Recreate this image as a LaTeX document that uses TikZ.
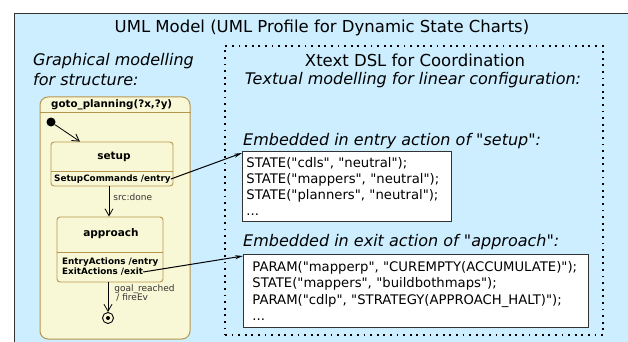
\documentclass[tikz,border=0pt]{standalone}
\usepackage{fontspec}
\setmainfont{DejaVu Sans}[Ligatures=TeXOff]
\usepackage{tikz}
\usetikzlibrary{arrows.meta,positioning}

\definecolor{modelblue}{RGB}{204,238,255}
\definecolor{stateyellow}{RGB}{248,248,214}
\definecolor{stateborder}{RGB}{184,150,80}

\begin{document}
\begin{tikzpicture}[x=1pt, y=-1pt]
    \tikzstyle{state} = [rectangle, rounded corners=3pt, draw=stateborder, fill=stateyellow, line width=0.9pt]
    \tikzstyle{sname} = [font=\bfseries\fontsize{10.5}{12}\selectfont, inner sep=0pt]
    \tikzstyle{act} = [font=\bfseries\fontsize{8.8}{10}\selectfont, align=left, inner sep=0pt]
    \tikzstyle{trans} = [line width=0.8pt, -{Straight Barb[length=7pt, width=8pt]}]
    \tikzstyle{tlabel} = [font=\fontsize{9}{9.5}\selectfont, text=black!80, align=left, inner sep=0pt]
    \tikzstyle{code} = [rectangle, draw=black!80, fill=white, line width=0.9pt, align=left, font=\fontsize{13.2}{16.3}\selectfont, anchor=north west]
    \tikzstyle{ital} = [font=\itshape\fontsize{16}{20}\selectfont, inner sep=0pt]
    \tikzstyle{embed} = [line width=1pt, -{Stealth[length=8pt, width=4pt]}]

    \clip (0,0) rectangle (628,342);
    \node [draw=black!80, fill=modelblue, line width=1.3pt, anchor=north west, minimum width=640pt, minimum height=360pt] (model) at (14,13) {};
    \node [font=\fontsize{16.5}{19}\selectfont] (title) at (322,28) {UML Model (UML Profile for Dynamic State Charts)};

    % left part: state chart
    \node [ital, anchor=west, align=left] (graphical) at (33,70) {Graphical modelling\\for structure:};
    \node [rectangle, rounded corners=8pt, draw=stateborder, fill=stateyellow, line width=1pt, minimum width=150pt, minimum height=242pt] (plan) at (115,218) {};
    \draw [stateborder, line width=1pt] ([yshift=-16pt]plan.north west) -- ([yshift=-16pt]plan.north east);
    \node [font=\bfseries\fontsize{10.3}{12}\selectfont, anchor=west, inner sep=0pt] (planname) at (51,105) {goto\_planning(?x,?y)};

    \node [circle, fill=black, minimum size=9pt, inner sep=0pt] (init) at (51,122) {};

    \node [state, minimum width=122pt, minimum height=44pt] (setup) at (112,164) {};
    \node [sname] (setupname) at (114,157) {setup};
    \draw [stateborder, line width=0.9pt] ([yshift=15pt]setup.south west) -- ([yshift=15pt]setup.south east);
    \node [act, anchor=west] (setupentry) at (54,179) {SetupCommands /entry};

    \node [state, minimum width=106pt, minimum height=65pt] (approach) at (110,249.5) {};
    \node [sname] (approachname) at (111,234) {approach};
    \draw [stateborder, line width=0.9pt] ([yshift=30pt]approach.south west) -- ([yshift=30pt]approach.south east);
    \node [act, anchor=west] (approachentry) at (62,262) {EntryActions /entry};
    \node [act, anchor=west] (approachexit) at (62,272) {ExitActions /exit};

    \node [circle, draw=black, line width=0.9pt, minimum size=11pt, inner sep=0pt] (final) at (108,318) {};
    \fill (final.center) circle (2pt);

    \draw [trans] (init) -- ([xshift=-32pt]setup.north);
    \draw [trans] ([xshift=-3pt]setup.south) -- ([xshift=-1pt]approach.north) node [tlabel, pos=0.35, right=4pt] {src:done};
    \draw [trans] (approach.south -| final) -- (final.north) node [tlabel, pos=0.05, anchor=north west, xshift=6pt] {goal\_reached\\\hspace{2pt}/ fireEv};

    % right part: DSL
    \node [draw=black, line width=1.8pt, dash pattern=on 1.8pt off 4.8pt, minimum width=378pt, minimum height=289pt] (dsl) at (414,190.5) {};
    \node [font=\fontsize{16.5}{19}\selectfont] (xtext) at (415,60) {Xtext DSL for Coordination};
    \node [ital] (textual) at (413,80) {Textual modelling for linear configuration:};

    \node [ital, anchor=west] (entrylabel) at (243,141) {Embedded in entry action of "setup":};
    \node [code, text width=201pt, minimum height=70pt, inner xsep=4pt] (setupcode) at (242,151) {STATE("cdls", "neutral");\\STATE("mappers", "neutral");\\STATE("planners", "neutral");\\...};

    \node [ital, anchor=west] (exitlabel) at (243,242) {Embedded in exit action of "approach":};
    \node [code, text width=327pt, minimum height=73pt, inner xsep=9pt] (approachcode) at (243,254) {PARAM("mapperp", "CUREMPTY(ACCUMULATE)");\\STATE("mappers", "buildbothmaps");\\PARAM("cdlp", "STRATEGY(APPROACH\_HALT)");\\...};

    \draw [embed] (setupentry.east) -- ([yshift=-2pt]setupcode.north west);
    \draw [embed] (approachexit.east) -- ([yshift=-2pt]approachcode.north west);
\end{tikzpicture}
\end{document}
